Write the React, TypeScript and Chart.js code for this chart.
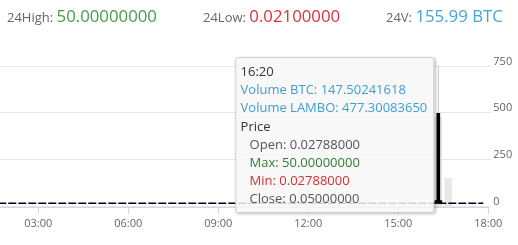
import React, { useEffect, useRef, useState } from "react";
import { Chart, registerables } from "chart.js";

Chart.register(...registerables);

// ---- data ----
const xTickMinutes = [180, 360, 540, 720, 900, 1080];
const volumeTicks = [0, 250, 500, 750];

const priceTimes = [100, 160, 220, 280, 340, 400, 460, 520, 580, 640, 700, 760, 820, 880, 940, 980, 1000, 1040, 1070];
const priceClose = [0.0279, 0.0279, 0.0279, 0.028, 0.028, 0.0279, 0.0279, 0.0279, 0.0279, 0.0279, 0.0279, 0.0279, 0.0279, 0.0279, 0.0279, 0.05, 0.05, 0.05, 0.05];

const volumeTimes = [980, 1000];
const volumeLambo = [477.3008365, 150];
const volumeBtc = [147.50241618, 8.49];

const candleTimes = [980];
const candleOpen = [0.02788];
const candleMax = [50.0];
const candleMin = [0.02788];
const candleClose = [0.05];

const statHigh = "50.00000000";
const statLow = "0.02100000";
const statVolume = "155.99 BTC";

const hoverIndex = 0;

const fmtTime = (m: number) => {
  const h = Math.floor(m / 60);
  const mm = Math.round(m % 60);
  return String(h).padStart(2, "0") + ":" + String(mm).padStart(2, "0");
};

const FONT = "'Open Sans', 'DejaVu Sans', sans-serif";

export default function App() {
  const ref = useRef<HTMLCanvasElement | null>(null);
  const [tip, setTip] = useState<{ x: number; top: number } | null>(null);

  useEffect(() => {
    if (!ref.current) return;
    Chart.defaults.font.family = FONT;

    const crosshair = {
      id: "crosshair",
      beforeDatasetsDraw(chart: any) {
        const x = chart.scales.x.getPixelForValue(candleTimes[hoverIndex]);
        const { top, bottom } = chart.chartArea;
        const ctx = chart.ctx;
        ctx.save();
        ctx.strokeStyle = "#cccccc";
        ctx.lineWidth = 1;
        ctx.beginPath();
        ctx.moveTo(Math.round(x) + 0.5, top);
        ctx.lineTo(Math.round(x) + 0.5, bottom);
        ctx.stroke();
        ctx.restore();
      },
    };

    const chart = new Chart(ref.current, {
      type: "bar",
      data: {
        datasets: [
          {
            type: "line",
            label: "Price",
            data: priceTimes.map((t, i) => ({ x: t, y: priceClose[i] })),
            yAxisID: "price",
            borderColor: "#000000",
            borderWidth: 1.6,
            borderDash: [8, 2],
            pointRadius: 0,
            tension: 0,
            order: 0,
          } as any,
          {
            type: "bar",
            label: "Wick",
            data: candleTimes.map((t, i) => ({ x: t, y: [candleMin[i], candleMax[i]] })),
            yAxisID: "price",
            backgroundColor: "#000000",
            barThickness: 3,
            grouped: false,
            order: 1,
          } as any,
          {
            type: "bar",
            label: "Body",
            data: candleTimes.map((t, i) => ({ x: t, y: [candleOpen[i], candleClose[i]] })),
            yAxisID: "price",
            backgroundColor: "#000000",
            barThickness: 7,
            minBarLength: 2.6,
            grouped: false,
            order: 1,
          } as any,
          {
            type: "bar",
            label: "Volume LAMBO",
            data: volumeTimes.map((t, i) => ({ x: t, y: volumeLambo[i] })),
            yAxisID: "y",
            backgroundColor: "#e8e8e8",
            barThickness: 7,
            grouped: false,
            order: 2,
          } as any,
        ],
      },
      options: {
        animation: false,
        responsive: false,
        layout: { padding: { top: 66, bottom: 12, left: 0, right: 0 } },
        plugins: {
          legend: { display: false },
          tooltip: { enabled: false },
        },
        scales: {
          x: {
            type: "linear",
            offset: false,
            min: 103.4,
            max: 1080,
            afterBuildTicks: (axis: any) => {
              axis.ticks = xTickMinutes.map((v) => ({ value: v }));
            },
            grid: {
              offset: false,
              drawOnChartArea: false,
              drawTicks: true,
              tickLength: 6,
              color: "#ccd6eb",
            },
            border: { display: true, color: "#ccd6eb" },
            ticks: {
              callback: (v: any) => fmtTime(Number(v)),
              color: "#666666",
              font: { size: 11 },
              padding: 3,
              maxRotation: 0,
            },
          },
          y: {
            type: "linear",
            position: "right",
            min: -7.5,
            max: 750,
            afterBuildTicks: (axis: any) => {
              axis.ticks = volumeTicks.map((v) => ({ value: v }));
            },
            afterFit: (axis: any) => {
              axis.width = 29.7;
            },
            grid: {
              color: "#e6e6e6",
              drawTicks: true,
              tickLength: 3,
            },
            border: { display: false },
            ticks: {
              color: "#666666",
              font: { size: 11 },
              padding: 2,
              labelOffset: -4.5,
            },
          },
          price: {
            type: "linear",
            display: false,
            min: -2.5,
            max: 76.2,
          },
        },
      } as any,
      plugins: [crosshair],
    });

    setTip({
      x: chart.scales.x.getPixelForValue(candleTimes[hoverIndex]),
      top: chart.chartArea.top,
    });

    return () => chart.destroy();
  }, []);

  const label: React.CSSProperties = { color: "#666666", fontSize: 13 };
  const value: React.CSSProperties = { fontSize: 16.8 };
  const indent: React.CSSProperties = { paddingLeft: 9 };

  return (
    <div
      style={{
        position: "fixed",
        left: 0,
        top: 0,
        width: 518,
        height: 245,
        background: "#ffffff",
        fontFamily: FONT,
        overflow: "hidden",
      }}
    >
      <canvas ref={ref} width={518} height={245} style={{ position: "absolute", left: 0, top: 0 }} />
      <div style={{ position: "absolute", left: 7, top: 4, whiteSpace: "nowrap" }}>
        <span style={label}>24High: </span>
        <span style={{ ...value, color: "#43a047" }}>{statHigh}</span>
      </div>
      <div style={{ position: "absolute", left: 203, top: 4, whiteSpace: "nowrap" }}>
        <span style={label}>24Low: </span>
        <span style={{ ...value, color: "#e0313a" }}>{statLow}</span>
      </div>
      <div style={{ position: "absolute", left: 386, top: 4, whiteSpace: "nowrap" }}>
        <span style={label}>24V: </span>
        <span style={{ ...value, color: "#47a3d6" }}>{statVolume}</span>
      </div>
      {tip && (
        <div
          style={{
            position: "absolute",
            left: tip.x - 4,
            top: tip.top - 9,
            transform: "translateX(-100%)",
            background: "rgba(247,247,247,0.85)",
            border: "1px solid #cfcfcf",
            borderRadius: 3,
            boxShadow: "1px 1px 3px rgba(0,0,0,0.25)",
            padding: "4px 6px 4px 4px",
            fontSize: 13,
            lineHeight: "18.2px",
            whiteSpace: "nowrap",
            color: "#333333",
          }}
        >
          <div>{fmtTime(candleTimes[hoverIndex])}</div>
          <div style={{ color: "#3d9fd3" }}>Volume BTC: {volumeBtc[hoverIndex].toFixed(8)}</div>
          <div style={{ color: "#3d9fd3" }}>Volume LAMBO: {volumeLambo[hoverIndex].toFixed(8)}</div>
          <div>Price</div>
          <div style={{ ...indent, color: "#555555" }}>Open: {candleOpen[hoverIndex].toFixed(8)}</div>
          <div style={{ ...indent, color: "#2e7d32" }}>Max: {candleMax[hoverIndex].toFixed(8)}</div>
          <div style={{ ...indent, color: "#d32f2f" }}>Min: {candleMin[hoverIndex].toFixed(8)}</div>
          <div style={{ ...indent, color: "#555555" }}>Close: {candleClose[hoverIndex].toFixed(8)}</div>
        </div>
      )}
    </div>
  );
}
